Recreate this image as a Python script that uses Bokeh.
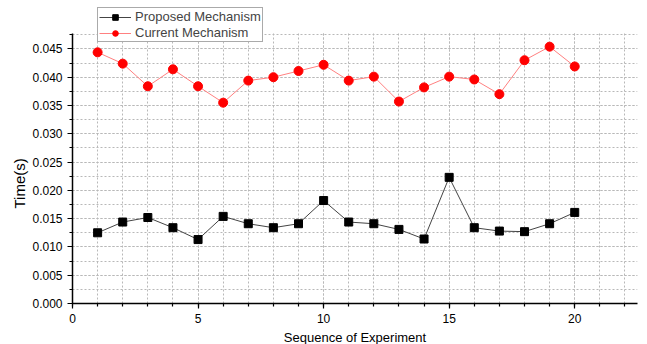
from bokeh.plotting import figure
from bokeh.models import Range1d, Legend, LegendItem, SingleIntervalTicker, PrintfTickFormatter, Grid, Title
from bokeh.embed import file_html
from bokeh.resources import INLINE

experiments = list(range(1, 21))
proposed = [0.0125, 0.0144, 0.0152, 0.0134, 0.0113, 0.0154, 0.0141, 0.0134, 0.0141, 0.0182,
            0.0144, 0.0141, 0.0131, 0.0114, 0.0223, 0.0134, 0.0128, 0.0127, 0.0141, 0.0161]
current = [0.0444, 0.0424, 0.0384, 0.0414, 0.0384, 0.0355, 0.0394, 0.0400, 0.0411, 0.0422,
           0.0394, 0.0401, 0.0357, 0.0382, 0.0401, 0.0396, 0.0370, 0.0430, 0.0454, 0.0419]

FONT = "Liberation Sans"
Y_TOP = 0.0478          # visible top of the y axis
Y_FRAME_TOP = 0.0525    # frame extends a bit higher so the legend is not clipped

p = figure(width=639, height=347, output_backend="svg", toolbar_location=None,
           x_range=Range1d(0, 22.5), y_range=Range1d(0, Y_FRAME_TOP),
           min_border_left=72, min_border_right=2, min_border_top=6, min_border_bottom=30)
p.outline_line_color = None
p.background_fill_color = "white"

p.xaxis.ticker = SingleIntervalTicker(interval=5, num_minor_ticks=5)
p.yaxis.ticker = SingleIntervalTicker(interval=0.005, num_minor_ticks=2)
p.yaxis.formatter = PrintfTickFormatter(format="%.3f")
p.yaxis.bounds = (0, Y_TOP)

for ax in (p.xaxis, p.yaxis):
    ax.axis_line_width = 1.5
    ax.axis_line_color = "black"
    ax.major_tick_line_color = "black"
    ax.minor_tick_line_color = "black"
    ax.major_tick_line_width = 1.2
    ax.minor_tick_line_width = 1.2
    ax.major_tick_out = 5
    ax.major_tick_in = 0
    ax.minor_tick_out = 3
    ax.minor_tick_in = 0
    ax.major_label_text_font = FONT
    ax.major_label_text_font_size = "12px"
    ax.major_label_text_color = "black"
    ax.axis_label_text_font = FONT
    ax.axis_label_text_font_size = "13px"
    ax.axis_label_text_font_style = "normal"
    ax.axis_label_text_color = "black"

p.xaxis.axis_label = "Sequence of Experiment"
p.xaxis.axis_label_standoff = 4

ylabel = Title(text="Time(s)", align="left", offset=95, standoff=4,
               text_font=FONT, text_font_size="15px", text_font_style="normal",
               text_color="black")
p.add_layout(ylabel, "left")

p.ygrid.bounds = (0, Y_TOP)
if "cross_bounds" in Grid.properties():
    p.xgrid.cross_bounds = (0, Y_TOP)

for g in (p.xgrid, p.ygrid):
    g.grid_line_color = "#b8b8b8"
    g.grid_line_dash = "2 2"
    g.grid_line_width = 1
    g.minor_grid_line_color = "#b8b8b8"
    g.minor_grid_line_dash = "2 2"
    g.minor_grid_line_width = 1

l1 = p.line(experiments, proposed, line_color="#444444", line_width=1)
m1 = p.scatter(experiments, proposed, marker="square", size=8, fill_color="black", line_color="black")
l2 = p.line(experiments, current, line_color="#ff8080", line_width=1)
m2 = p.scatter(experiments, current, marker="circle", size=9, fill_color="red", line_color="red")

legend = Legend(items=[LegendItem(label="Proposed Mechanism", renderers=[l1, m1]),
                       LegendItem(label="Current Mechanism", renderers=[l2, m2])],
                location=(25, 261))
legend.label_text_font = FONT
legend.label_text_font_size = "13px"
legend.label_height = 14
legend.glyph_height = 14
legend.glyph_width = 32
legend.spacing = 1
legend.padding = 1
legend.margin = 0
legend.label_standoff = 4
legend.border_line_color = "#555555"
legend.border_line_width = 1
legend.background_fill_alpha = 1
p.add_layout(legend, "center")

open("out.html", "w").write(file_html(p, INLINE))
